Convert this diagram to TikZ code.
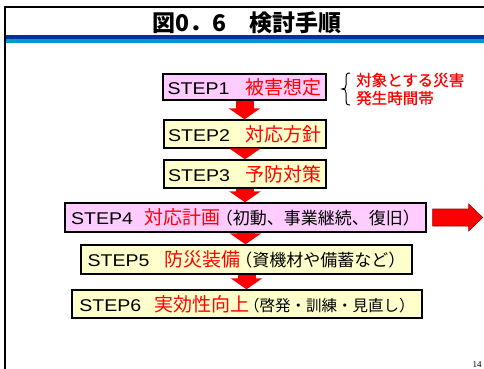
\documentclass[tikz,border=0pt]{standalone}
\usepackage{fontspec}
\setmainfont{Liberation Sans}
\newfontfamily\jp{Noto Sans CJK JP}
\newfontfamily\jpsb[FakeBold=0.8]{Noto Sans CJK JP}
\newfontfamily\lat{Liberation Sans}
\newfontfamily\ser{Liberation Serif}
\usetikzlibrary{arrows.meta,calc,shadows}
\definecolor{pinkfill}{HTML}{FFCCFF}
\definecolor{yellowfill}{HTML}{FFFFCC}
\definecolor{darkblue}{HTML}{003399}
\definecolor{lightblue}{HTML}{0099CC}
\newcommand{\stp}[1]{{\lat\fontsize{17}{17}\selectfont\scalebox{1.15}[1]{#1}}}
\newcommand{\redjp}[1]{{\jp\fontsize{19}{19}\selectfont\color{red}#1}}
\newcommand{\parjp}[2][17]{{\hspace{-5pt}\jp\fontsize{#1}{#1}\selectfont #2}}
\begin{document}
\begin{tikzpicture}[x=1pt,y=-1pt,
  stepbox/.style={draw=black, line width=1.3pt, inner sep=0pt, align=center,
    drop shadow={shadow xshift=1pt,shadow yshift=-1pt,fill=black!40,opacity=0.8}},
  pinkbox/.style={stepbox, fill=pinkfill},
  yellowbox/.style={stepbox, fill=yellowfill},
  downarrow/.style={red, line width=18pt, -{Triangle[width=31pt,length=11pt]}},
  rightarrow/.style={fill=red, draw=red!60!black, line width=0.6pt},
]
\useasboundingbox (0,0) rectangle (484,369);
% frame
\draw[line width=2pt] (5,369) -- (5,7.5) -- (484,7.5);
% blue bars
\fill[darkblue] (6,35) rectangle (484,39);
\fill[lightblue] (6,39) rectangle (484,43);
% title
\node (title) at (247,23) {\jp\bfseries\fontsize{23}{23}\selectfont 図0．6　検討手順};
% steps
\node[pinkbox, minimum width=163pt, minimum height=26pt] (b1) at (244.5,87)
  {\stp{STEP1}\hspace{16pt}\redjp{被害想定}};
\node[yellowbox, minimum width=162pt, minimum height=28pt] (b2) at (245,134)
  {\stp{STEP2}\hspace{16pt}\redjp{対応方針}};
\node[yellowbox, minimum width=162pt, minimum height=28pt] (b3) at (245,174)
  {\stp{STEP3}\hspace{16pt}\redjp{予防対策}};
\node[pinkbox, minimum width=361pt, minimum height=29pt] (b4) at (245.5,217.5)
  {\stp{STEP4}\hspace{12pt}\redjp{対応計画}\parjp{（初動、事業継続、復旧）}};
\node[yellowbox, minimum width=331pt, minimum height=29pt] (b5) at (246.5,259.5)
  {\stp{STEP5}\hspace{15pt}\redjp{防災装備}\parjp{（資機材や備蓄など）}};
\node[yellowbox, minimum width=350pt, minimum height=28pt] (b6) at (247,304)
  {\stp{STEP6}\hspace{13pt}\redjp{実効性向上}\parjp[15.5]{（啓発・訓練・見直し）}};
% down arrows
\draw[downarrow] (b1.south) -- (b1.south |- b2.north);
\draw[downarrow] (b2.south) -- (b2.south |- b3.north);
\draw[downarrow] (b3.south) -- (b3.south |- b4.north);
\draw[downarrow] (b4.south) -- (b4.south |- b5.north);
\draw[downarrow] (b5.south) -- (b5.south |- b6.north);
% right arrow
\draw[rightarrow] ($(b4.east)+(6,-8.5)$) -- ++(36,0) -- ++(0,-5) -- ++(14,13.5)
  coordinate (rtip) -- ++(-14,13.5) -- ++(0,-5) -- ++(-36,0) -- cycle;
% brace and note
\draw[line width=1pt] (350,73) .. controls (346,73) and (346,75) .. (346,78)
  -- (346,85) .. controls (346,88) and (345,89) .. (342,89)
  .. controls (345,89) and (346,90) .. (346,93)
  -- (346,100) .. controls (346,103) and (346,105) .. (350,105);
\node[anchor=west, align=left, text=red, inner sep=0pt,
  font=\jpsb\fontsize{15.5}{18}\selectfont] (note) at (356,89)
  {対象とする災害\\発生時間帯};
% page number
\node[font=\ser\fontsize{9}{9}\selectfont, inner sep=0pt] (pg) at (477,365) {14};
\end{tikzpicture}
\end{document}
